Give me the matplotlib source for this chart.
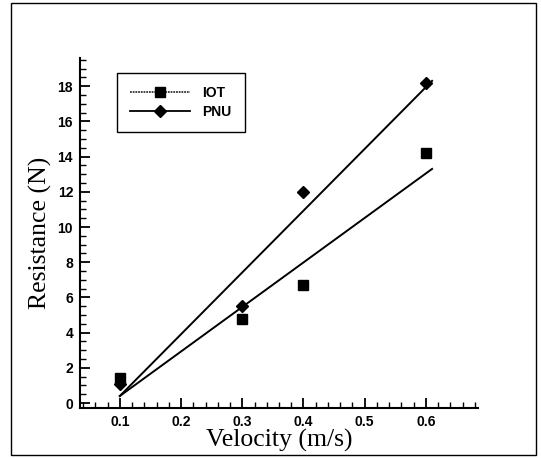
import matplotlib
matplotlib.use("Agg")
import matplotlib.pyplot as plt
from matplotlib.patches import Rectangle
from matplotlib.ticker import MultipleLocator

# measured points
velocity = [0.1, 0.3, 0.4, 0.6]
iot = [1.4, 4.8, 6.7, 14.2]
pnu = [1.1, 5.5, 12.0, 18.2]

# trend lines (end points)
fit_v = [0.1, 0.61]
fit_iot = [0.4, 13.3]
fit_pnu = [0.4, 18.3]

fig = plt.figure(figsize=(5.41, 4.58), dpi=100)
fig.patches.append(Rectangle((11 / 541, 3 / 458), 525 / 541, 452 / 458,
                             transform=fig.transFigure, fill=False,
                             edgecolor='black', linewidth=1.0))

ax = fig.add_axes([80 / 541, 50 / 458, 398 / 541, 350 / 458])

ax.plot(fit_v, fit_iot, color='black', linewidth=1.4)
ax.plot(fit_v, fit_pnu, color='black', linewidth=1.4)
ax.plot(velocity, iot, linestyle='none', marker='s', markersize=6.5, color='black')
ax.plot(velocity, pnu, linestyle='none', marker='D', markersize=6.5, color='black')

# legend handles
h1, = ax.plot([], [], color='#333333', linestyle=(0, (1, 0.5)), linewidth=1.3,
              marker='s', markersize=6.5, markerfacecolor='black',
              markeredgecolor='black', label='IOT')
h2, = ax.plot([], [], color='black', linewidth=1.3,
              marker='D', markersize=6.5, label='PNU')
leg = ax.legend(handles=[h1, h2], loc='upper left',
                bbox_to_anchor=(117 / 541, 1 - 73 / 458),
                bbox_transform=fig.transFigure, fancybox=False,
                edgecolor='black', framealpha=1, handlelength=4.3,
                borderpad=0.95, labelspacing=0.35, handletextpad=0.9,
                borderaxespad=0,
                prop={'family': 'Liberation Sans', 'weight': 'bold', 'size': 10})
leg.get_frame().set_linewidth(1.0)

ax.set_xlim(0.035, 0.685)
ax.set_ylim(-0.28, 19.6)
ax.xaxis.set_major_locator(MultipleLocator(0.1))
ax.xaxis.set_minor_locator(MultipleLocator(0.02))
ax.yaxis.set_major_locator(MultipleLocator(2))
ax.yaxis.set_minor_locator(MultipleLocator(0.5))
ax.set_xticks([0.1, 0.2, 0.3, 0.4, 0.5, 0.6])
ax.set_xticklabels(['0.1', '0.2', '0.3', '0.4', '0.5', '0.6'])

ax.spines['top'].set_visible(False)
ax.spines['right'].set_visible(False)
ax.spines['left'].set_linewidth(1.5)
ax.spines['bottom'].set_linewidth(1.5)
ax.tick_params(which='major', direction='in', length=7, width=1.3, pad=5)
ax.tick_params(which='minor', direction='in', length=4, width=1.0)
for lab in ax.get_xticklabels() + ax.get_yticklabels():
    lab.set_family('Liberation Sans')
    lab.set_fontsize(10)
    lab.set_fontweight('bold')

ax.set_xlabel('Velocity (m/s)', family='Liberation Serif', fontsize=18.5, labelpad=0)
ax.set_ylabel('Resistance (N)', family='Liberation Serif', fontsize=18.5, labelpad=4)

fig.savefig('out.png', dpi=100)
